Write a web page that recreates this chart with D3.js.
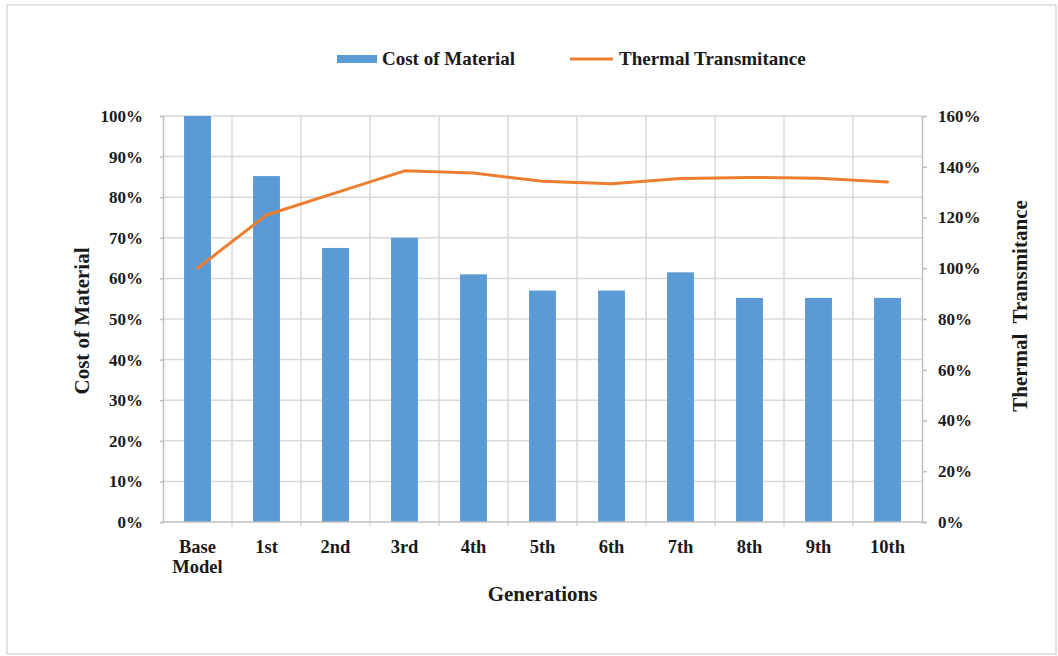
<!DOCTYPE html>
<html>
<head>
<meta charset="utf-8">
<script src="https://cdn.jsdelivr.net/npm/d3@7"></script>
<style>
  html, body { margin: 0; padding: 0; background: #fff; }
  svg { display: block; }
  text { font-family: "Liberation Serif", "Times New Roman", serif; font-weight: bold; fill: #1a1a1a; }
</style>
</head>
<body>
<svg id="chart" width="1058" height="656"></svg>
<script>
// Generations of the optimisation run
const generations = ["Base Model", "1st", "2nd", "3rd", "4th", "5th", "6th", "7th", "8th", "9th", "10th"];
// Cost of material relative to the base model (left axis)
const costOfMaterial = [1.00, 0.852, 0.675, 0.700, 0.610, 0.570, 0.570, 0.615, 0.552, 0.552, 0.552];
// Thermal transmittance relative to the base model (right axis)
const thermalTransmitance = [1.00, 1.21, 1.297, 1.384, 1.375, 1.343, 1.333, 1.354, 1.358, 1.355, 1.340];
// Axis ticks
const leftTicks = [0, 0.1, 0.2, 0.3, 0.4, 0.5, 0.6, 0.7, 0.8, 0.9, 1.0];
const rightTicks = [0, 0.2, 0.4, 0.6, 0.8, 1.0, 1.2, 1.4, 1.6];

const svg = d3.select("#chart");
const plot = { left: 163, right: 922, top: 116, bottom: 522 };

const gridColor = "#d9d9d9";
const axisColor = "#bfbfbf";
const barColor = "#5b9bd5";
const lineColor = "#ed7d31";

// Outer frame
svg.append("rect")
  .attr("x", 7).attr("y", 5).attr("width", 1049).attr("height", 649)
  .attr("fill", "none").attr("stroke", "#d9d9d9").attr("stroke-width", 1.5);

const x = d3.scaleBand().domain(generations).range([plot.left, plot.right]).padding(0);
const yLeft = d3.scaleLinear().domain([0, 1]).range([plot.bottom, plot.top]);
const yRight = d3.scaleLinear().domain([0, 1.6]).range([plot.bottom, plot.top]);

const pct = d3.format(".0%");

// Horizontal gridlines
svg.append("g").selectAll("line").data(leftTicks.slice(1)).join("line")
  .attr("x1", plot.left).attr("x2", plot.right)
  .attr("y1", d => yLeft(d)).attr("y2", d => yLeft(d))
  .attr("stroke", gridColor).attr("stroke-width", 1.5);

// Vertical gridlines at category boundaries
svg.append("g").selectAll("line").data(generations.slice(1)).join("line")
  .attr("x1", d => x(d)).attr("x2", d => x(d))
  .attr("y1", plot.top).attr("y2", plot.bottom + 4)
  .attr("stroke", gridColor).attr("stroke-width", 1.5);

// Bars
const barW = x.bandwidth() * 0.39;
svg.append("g").selectAll("rect").data(generations).join("rect")
  .attr("x", d => x(d) + (x.bandwidth() - barW) / 2)
  .attr("width", barW)
  .attr("y", (d, i) => yLeft(costOfMaterial[i]))
  .attr("height", (d, i) => plot.bottom - yLeft(costOfMaterial[i]))
  .attr("fill", barColor);

// Left axis
const gLeft = svg.append("g").attr("transform", `translate(${plot.left},0)`)
  .call(d3.axisLeft(yLeft).tickValues(leftTicks).tickFormat(pct).tickSize(3).tickPadding(17));
gLeft.select(".domain").attr("stroke", axisColor).attr("stroke-width", 1.5);
gLeft.selectAll(".tick line").attr("stroke", axisColor).attr("stroke-width", 1.5);
gLeft.selectAll(".tick text").style("font-family", "'Liberation Serif', serif")
  .style("font-weight", "bold").style("font-size", "17px").attr("fill", "#1a1a1a");

// Right axis
const gRight = svg.append("g").attr("transform", `translate(${plot.right},0)`)
  .call(d3.axisRight(yRight).tickValues(rightTicks).tickFormat(pct).tickSize(5).tickPadding(11));
gRight.select(".domain").attr("stroke", axisColor).attr("stroke-width", 1.5);
gRight.selectAll(".tick line").attr("stroke", axisColor).attr("stroke-width", 1.5);
gRight.selectAll(".tick text").style("font-family", "'Liberation Serif', serif")
  .style("font-weight", "bold").style("font-size", "17px").attr("fill", "#1a1a1a");

// Bottom axis line
svg.append("line")
  .attr("x1", plot.left).attr("x2", plot.right)
  .attr("y1", plot.bottom).attr("y2", plot.bottom)
  .attr("stroke", axisColor).attr("stroke-width", 1.5);

// Category labels
const catLabels = svg.append("g").selectAll("text").data(generations).join("text")
  .attr("text-anchor", "middle")
  .attr("x", d => x(d) + x.bandwidth() / 2)
  .attr("y", 553)
  .style("font-size", "18.5px");
catLabels.each(function(d) {
  const words = d.split(" ");
  const t = d3.select(this);
  words.forEach((w, i) => {
    t.append("tspan").attr("x", x(d) + x.bandwidth() / 2).attr("dy", i === 0 ? 0 : 20).text(w);
  });
});

// Thermal transmittance line
const line = d3.line()
  .x((d, i) => x(generations[i]) + x.bandwidth() / 2)
  .y(d => yRight(d));
svg.append("path").datum(thermalTransmitance)
  .attr("d", line)
  .attr("fill", "none").attr("stroke", lineColor).attr("stroke-width", 3)
  .attr("stroke-linejoin", "round").attr("stroke-linecap", "round");

// Axis titles
svg.append("text").attr("text-anchor", "middle")
  .attr("x", (plot.left + plot.right) / 2).attr("y", 601)
  .style("font-size", "21px").text("Generations");

svg.append("text").attr("text-anchor", "middle")
  .attr("transform", "translate(89,321) rotate(-90)")
  .style("font-size", "21px").text("Cost of Material");

svg.append("text").attr("text-anchor", "middle")
  .attr("transform", "translate(1027,306) rotate(-90)")
  .style("font-size", "21px").style("white-space", "pre").attr("xml:space", "preserve")
  .text("Thermal  Transmitance");

// Legend
const legend = svg.append("g");
legend.append("rect").attr("x", 337).attr("y", 55).attr("width", 40).attr("height", 8).attr("fill", barColor);
legend.append("text").attr("x", 382).attr("y", 65).style("font-size", "19px").text("Cost of Material");
legend.append("line").attr("x1", 570).attr("x2", 613).attr("y1", 59).attr("y2", 59)
  .attr("stroke", lineColor).attr("stroke-width", 3);
legend.append("text").attr("x", 619).attr("y", 65).style("font-size", "19px").text("Thermal Transmitance");
</script>
</body>
</html>
